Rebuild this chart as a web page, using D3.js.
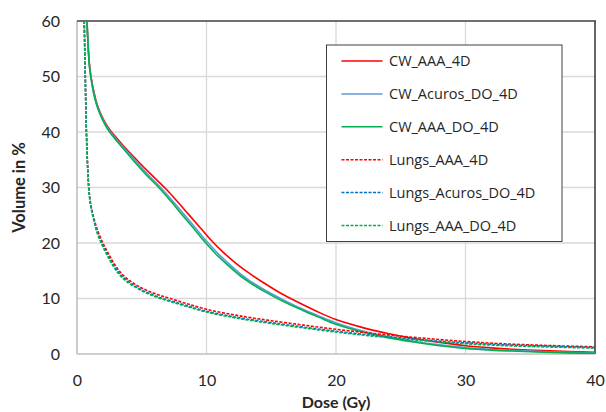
<!DOCTYPE html>
<html><head><meta charset="utf-8">
<script src="https://cdn.jsdelivr.net/npm/d3@7"></script>
<style>body{margin:0;background:#fff}svg{display:block}text{font-family:Lato,"Noto Sans",sans-serif;fill:#262626}</style>
</head><body><svg id="c" width="606" height="412"></svg>
<script>
const xTicks=[0,10,20,30,40];
const yTicks=[0,10,20,30,40,50,60];
const seriesNames=["CW_AAA_4D","CW_Acuros_DO_4D","CW_AAA_DO_4D","Lungs_AAA_4D","Lungs_Acuros_DO_4D","Lungs_AAA_DO_4D"];
const cwAAA=[[0.77,60],[0.85,56],[0.95,52.5],[1.08,50],[1.3,47.3],[1.55,45.0],[1.85,43.2],[2.2,41.6],[2.6,40.2],[3.1,38.8],[3.7,37.2],[4.6,35.0],[5.7,32.4],[6.8,29.9],[7.7,27.6],[8.6,25.2],[9.5,22.8],[10.4,20.4],[11.3,18.3],[12.3,16.3],[13.4,14.4],[14.5,12.7],[15.7,11.0],[17,9.4],[18.5,7.7],[20,6.2],[22,4.8],[24,3.7],[26,2.8],[28,2.1],[30,1.5],[32,1.1],[34,0.8],[36,0.6],[38,0.45],[40,0.3]];
const cwAcuros=[[0.77,60],[0.85,56],[0.95,52.2],[1.07,50],[1.27,47.3],[1.52,45.0],[1.81,43.2],[2.15,41.6],[2.52,40.2],[3.0,38.8],[3.6,37.2],[4.45,35.0],[5.45,32.4],[6.5,29.9],[7.37,27.6],[8.25,25.2],[9.12,22.8],[9.98,20.4],[10.85,18.2],[11.8,16.1],[12.8,14.1],[13.4,13.1],[14.6,11.4],[15.9,9.8],[17.4,8.1],[18.7,6.8],[20,5.6],[22,4.2],[24,3.1],[26,2.3],[28,1.65],[30,1.15],[32,0.82],[34,0.6],[36,0.42],[38,0.3],[40,0.2]];
const cwAAADO=[[0.77,60],[0.85,56],[0.95,52],[1.06,50],[1.26,47.3],[1.5,45.0],[1.78,43.2],[2.1,41.6],[2.45,40.2],[2.92,38.8],[3.5,37.2],[4.3,35.0],[5.3,32.4],[6.35,29.9],[7.22,27.6],[8.08,25.2],[8.95,22.8],[9.8,20.4],[10.65,18.2],[11.6,16.1],[12.6,14.1],[13.4,12.8],[14.6,11.1],[15.9,9.5],[17.4,7.9],[18.7,6.6],[20,5.35],[22,4.0],[24,2.95],[26,2.15],[28,1.5],[30,1.0],[32,0.7],[34,0.5],[36,0.33],[38,0.2],[40,0.12]];
const lungsAAA=[[0.56,60],[0.64,50],[0.73,40],[0.84,33],[0.95,29],[1.1,26.5],[1.3,24.5],[1.6,22.2],[2.0,20.0],[2.4,18.2],[2.8,16.5],[3.3,14.85],[3.9,13.5],[4.6,12.4],[5.4,11.45],[6.3,10.65],[7.2,10.0],[8.5,9.05],[10,8.05],[12,7.1],[13.4,6.55],[15,6.0],[17.5,5.2],[20,4.45],[22.5,3.8],[25,3.2],[27.5,2.7],[30,2.25],[32.5,1.9],[35,1.65],[37.5,1.45],[40,1.3]];
const lungsAcuros=[[0.56,60],[0.64,50],[0.725,40],[0.835,33],[0.94,29],[1.08,26.5],[1.28,24.45],[1.56,22.1],[1.96,19.8],[2.35,18.0],[2.75,16.3],[3.25,14.6],[3.85,13.25],[4.6,12.05],[5.4,11.1],[6.3,10.25],[7.2,9.6],[8.5,8.7],[10,7.7],[12,6.75],[13.4,6.2],[15,5.65],[17.5,4.85],[20,4.1],[22.5,3.45],[25,2.9],[27.5,2.4],[30,2.0],[32.5,1.7],[35,1.5],[37.5,1.32],[40,1.18]];
const lungsAAADO=[[0.56,60],[0.64,50],[0.72,40],[0.83,33],[0.93,29],[1.07,26.5],[1.26,24.4],[1.53,22.0],[1.92,19.7],[2.3,17.9],[2.7,16.2],[3.2,14.5],[3.8,13.1],[4.6,11.9],[5.4,10.95],[6.3,10.1],[7.2,9.45],[8.5,8.55],[10,7.55],[12,6.6],[13.4,6.05],[15,5.5],[17.5,4.7],[20,3.95],[22.5,3.3],[25,2.75],[27.5,2.25],[30,1.85],[32.5,1.55],[35,1.35],[37.5,1.2],[40,1.05]];
const seriesData=[cwAAA,cwAcuros,cwAAADO,lungsAAA,lungsAcuros,lungsAAADO];
const colors=["#ff0000","#5b9bd5","#00b050","#ff0000","#0070c0","#00b050"];
const dashed=[false,false,false,true,true,true];

const svg=d3.select("#c");
const L=77,R=595,T=21,B=354;
const x=d3.scaleLinear().domain([0,40]).range([L,R]);
const y=d3.scaleLinear().domain([0,60]).range([B,T]);

// grid
svg.append("g").selectAll("line").data(yTicks.slice(1,-1)).join("line")
 .attr("x1",L).attr("x2",R).attr("y1",d=>y(d)).attr("y2",d=>y(d)).attr("stroke","#d9d9d9").attr("stroke-width",1.3);
svg.append("g").selectAll("line").data(xTicks.slice(1,-1)).join("line")
 .attr("y1",T).attr("y2",B).attr("x1",d=>x(d)).attr("x2",d=>x(d)).attr("stroke","#d9d9d9").attr("stroke-width",1.3);
// axes lines
svg.append("line").attr("x1",L).attr("x2",L).attr("y1",T).attr("y2",B).attr("stroke","#bfbfbf").attr("stroke-width",1.6);
svg.append("line").attr("x1",L).attr("x2",R).attr("y1",B).attr("y2",B).attr("stroke","#bfbfbf").attr("stroke-width",1.6);
svg.append("line").attr("x1",L).attr("x2",R+1).attr("y1",T).attr("y2",T).attr("stroke","#404040").attr("stroke-width",1.4);
svg.append("line").attr("x1",R).attr("x2",R).attr("y1",T).attr("y2",B).attr("stroke","#404040").attr("stroke-width",1.6);

// tick labels
const yAxis=d3.axisLeft(y).tickValues(yTicks).tickSize(0).tickPadding(17);
const gy=svg.append("g").attr("transform",`translate(${L},0)`).call(yAxis);
gy.select(".domain").remove();
gy.selectAll("text").style("font-family","Lato").style("font-size","16px").attr("fill","#262626");
const xAxis=d3.axisBottom(x).tickValues(xTicks).tickSize(0).tickPadding(21);
const gx=svg.append("g").attr("transform",`translate(0,${B})`).call(xAxis);
gx.select(".domain").remove();
gx.selectAll("text").style("font-family","Lato").style("font-size","16px").attr("fill","#262626");

// lines
svg.append("clipPath").attr("id","cp").append("rect").attr("x",L).attr("y",T).attr("width",R-L).attr("height",B-T);
const line=d3.line().x(d=>x(d[0])).y(d=>y(d[1])).curve(d3.curveCatmullRom.alpha(0.5));
const gl=svg.append("g").attr("clip-path","url(#cp)");
seriesData.forEach((s,i)=>{
 gl.append("path").attr("d",line(s)).attr("fill","none").attr("stroke",colors[i]).attr("stroke-width",1.6)
  .attr("stroke-dasharray",dashed[i]?"3,1.5":null);
});

// axis titles
svg.append("text").attr("x",(L+R)/2).attr("y",407.5).attr("text-anchor","middle").style("font-weight","bold").style("font-size","16px").text("Dose (Gy)");
svg.append("text").attr("transform",`translate(24.5,${(T+B)/2}) rotate(-90)`).attr("text-anchor","middle").style("font-weight","bold").style("font-size","16.5px").text("Volume in %");

// legend
const lg=svg.append("g");
lg.append("rect").attr("x",326.5).attr("y",45).attr("width",235.5).attr("height",196.5).attr("fill","#fff").attr("stroke","#404040").attr("stroke-width",1);
seriesNames.forEach((n,i)=>{
 const yy=61+i*32.9;
 lg.append("line").attr("x1",341.5).attr("x2",382.5).attr("y1",yy).attr("y2",yy).attr("stroke",colors[i]).attr("stroke-width",1.5).attr("stroke-dasharray",dashed[i]?"3,1.5":null);
 lg.append("text").attr("x",389).attr("y",yy).attr("dy","0.36em").style("font-family","'Open Sans'").style("font-size","14.5px").text(n);
});
</script></body></html>
